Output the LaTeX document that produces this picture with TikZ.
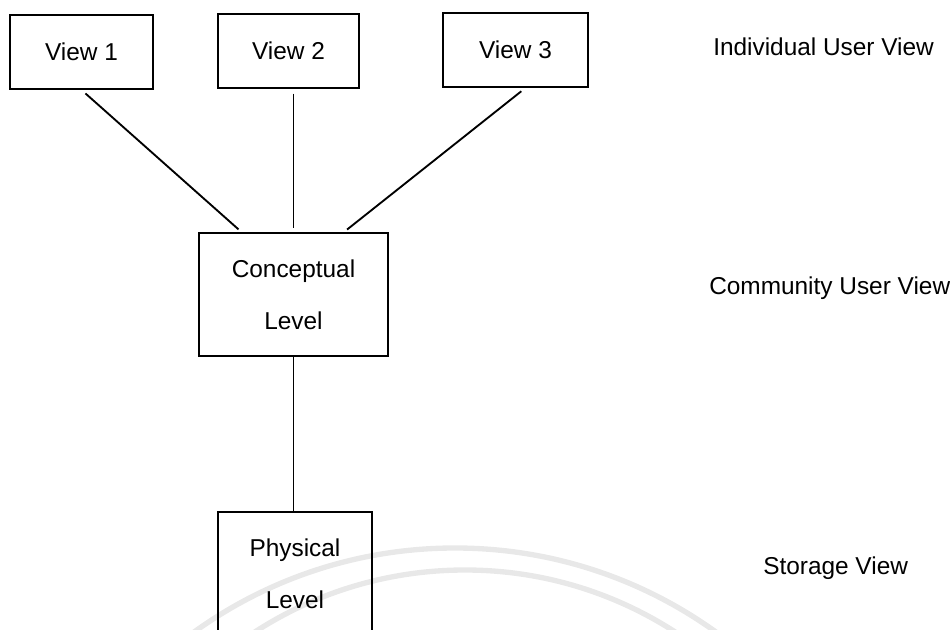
\documentclass[tikz,border=0pt]{standalone}
\usepackage{fontspec}
\setmainfont{Liberation Sans}
\usepackage{tikz}
\tikzstyle{viewbox}=[draw,line width=1.4pt,rectangle,minimum width=107pt,minimum height=55.5pt,inner sep=0pt]
\tikzstyle{levelbox}=[draw,line width=1.4pt,rectangle,align=center,inner sep=0pt]
\tikzstyle{link} = [draw,line width=1.4pt,-]
\tikzstyle{tier}=[anchor=base west,inner sep=0pt]
\tikzstyle{watermark}=[draw=black!9,line width=4pt]

\begin{document}
\begin{tikzpicture}[x=0.75pt,y=-0.75pt,font=\fontsize{18.3pt}{39pt}\selectfont]
      \useasboundingbox (0,0) rectangle (950,630);
      \clip (0,0) rectangle (950,630);
      % faint watermark of the scan
      \draw[watermark] (455,995) circle (447);
      \draw[watermark] (465,957) circle (387);
      \node[viewbox] (v1) at (81.5,52) {View 1};
      \node[viewbox,minimum width=106pt] (v2) at (288.5,51) {View 2};
      \node[viewbox,minimum width=109pt] (v3) at (515.5,50) {View 3};
      \node[levelbox,minimum width=141.75pt,minimum height=92.25pt] (conc) at (293.5,294.5) {Conceptual\\Level};
      \node[levelbox,minimum width=115.5pt,minimum height=93pt] (phys) at (295,574) {Physical\\Level};
      \node[tier] (ind) at (713,56) {Individual User View};
      \node[tier] (com) at (709,295) {Community User View};
      \node[tier] (sto) at (763,575) {Storage View};
      \draw[link,shorten <=4pt,shorten >=3pt] (v1.south) to ([xshift=32.6pt]conc.north west);
      \draw[link,shorten <=3.5pt,shorten >=3pt] (v2.south -| conc.north) to (conc.north);
      \draw[link,shorten <=4pt,shorten >=3pt] ([xshift=7.5pt]v3.south) to ([xshift=-33.75pt]conc.north east);
      \draw[link] (conc.south) to (conc.south |- phys.north);
    \end{tikzpicture}
\end{document}
